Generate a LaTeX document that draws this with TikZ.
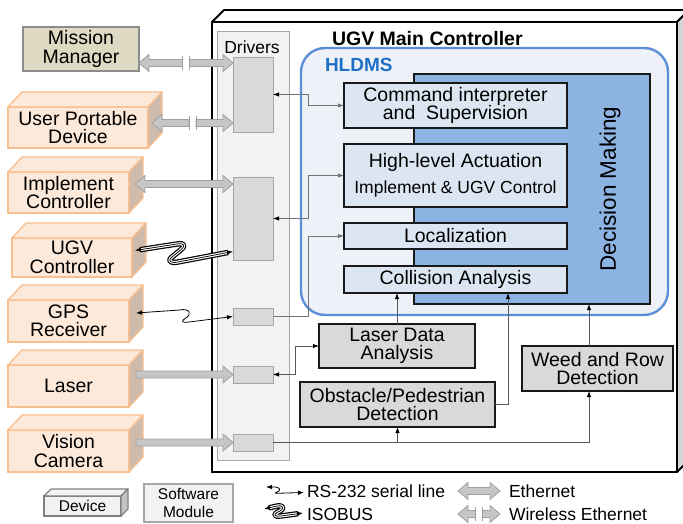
\documentclass[tikz,border=0pt]{standalone}
\usepackage{fontspec}
\setmainfont{Liberation Sans}
\usetikzlibrary{arrows.meta,calc}
\definecolor{peach}{HTML}{FDE9D9}
\definecolor{peachborder}{HTML}{F9BF8F}
\definecolor{peachside}{HTML}{CFBBAB}
\definecolor{khaki}{HTML}{DDD9C3}
\definecolor{mmborder}{HTML}{8C8C8C}
\definecolor{hlfill}{HTML}{EEF2F8}
\definecolor{hlborder}{HTML}{5B8FD8}
\definecolor{hltext}{HTML}{1F6FC5}
\definecolor{dmfill}{HTML}{8DB3E2}
\definecolor{modfill}{HTML}{DCE6F2}
\definecolor{swfill}{HTML}{D9D9D9}
\definecolor{drvpanel}{HTML}{F2F2F2}
\definecolor{drvborder}{HTML}{A6A6A6}
\definecolor{mainside}{HTML}{D6D6D6}
\definecolor{fatfill}{HTML}{C6C6C6}
\definecolor{fatdraw}{HTML}{A0A0A0}
\definecolor{legfill}{HTML}{F2F2F2}
\definecolor{legborder}{HTML}{808080}
\definecolor{legside}{HTML}{C4C4C4}
\tikzset{Lx/.tip={Latex[length=6pt,width=4.5pt]}}
\newcommand\mkcube[5]{%
  \draw[#4] (#1.north west) -- ++(#2,-#3) -- ($(#1.north east)+(#2,-#3)$) -- (#1.north east) -- cycle;
  \draw[#5] (#1.north east) -- ++(#2,-#3) -- ($(#1.south east)+(#2,-#3)$) -- (#1.south east) -- cycle;}
\newcommand\fatboth[2]{%
  \path[fat] let \p1=(#1), \p2=(#2) in
   (\x1,\y1) -- ++(10pt,8.5pt) -- ++(0pt,-5pt) -- (\x2-10pt,\y1+3.5pt) -- ++(0pt,5pt) -- (\x2,\y1)
   -- ++(-10pt,-8.5pt) -- ++(0pt,5pt) -- (\x1+10pt,\y1-3.5pt) -- ++(0pt,-5pt) -- cycle;}
\newcommand\fatsingle[2]{%
  \path[fat] let \p1=(#1), \p2=(#2) in
   (\x1,\y1+3.5pt) -- (\x2-10pt,\y1+3.5pt) -- ++(0pt,5pt) -- (\x2,\y1)
   -- ++(-10pt,-8.5pt) -- ++(0pt,5pt) -- (\x1,\y1-3.5pt) -- cycle;}
\newcommand\fatwireless[2]{%
  \path[fat] let \p1=(#1), \p2=(#2), \p3=($(#1)!.5!(#2)$) in
   (\x1,\y1) -- ++(10pt,8.5pt) -- ++(0pt,-5pt) -- (\x3-3.5pt,\y1+3.5pt) -- (\x3-3.5pt,\y1-3.5pt)
   -- (\x1+10pt,\y1-3.5pt) -- ++(0pt,-5pt) -- cycle
   (\x2,\y1) -- ++(-10pt,8.5pt) -- ++(0pt,-5pt) -- (\x3+3.5pt,\y1+3.5pt) -- (\x3+3.5pt,\y1-3.5pt)
   -- (\x2-10pt,\y1-3.5pt) -- ++(0pt,-5pt) -- cycle;
  \draw[fatdraw, line width=1pt] let \p1=(#1), \p3=($(#1)!.5!(#2)$) in
   (\x3-3.5pt,\y1+7pt) -- (\x3-3.5pt,\y1-7pt) (\x3+3.5pt,\y1+7pt) -- (\x3+3.5pt,\y1-7pt);}
\newcommand\isobus[1]{%
  \draw[black, line width=1.2pt, double=white, double distance=3pt, shorten <=5pt, shorten >=5pt, line join=round] #1;
  \draw[black, line width=0.75pt, line join=round, {Lx}-{Lx}] #1;}
\begin{document}
\begin{tikzpicture}[x=1pt,y=-1pt,
  font=\fontsize{19.5}{18.5}\selectfont,
  every node/.style={inner sep=0pt, outer sep=0pt},
  dev/.style={draw=peachborder, fill=peach, line width=1.3pt, align=center},
  devtop/.style={draw=peachborder, fill=peach, line width=1.3pt, line join=round},
  devside/.style={draw=peachborder, fill=peachside, line width=1.3pt, line join=round},
  mod/.style={draw=black!90, fill=modfill, line width=1.5pt, align=center},
  sw/.style={draw=black!90, fill=swfill, line width=1.7pt, align=center},
  drv/.style={draw=drvborder, fill=swfill, line width=0.9pt},
  fat/.style={fill=fatfill, draw=fatdraw, line width=0.8pt, line join=miter},
  conn/.style={draw=black!65, line width=0.9pt},
  gconn/.style={draw=black!55, line width=0.9pt},
  rs/.style={black, line width=0.8pt, line join=round, {Lx}-{Lx}},
  legtxt/.style={anchor=west, font=\fontsize{17.5}{18}\selectfont}]
\useasboundingbox (0,0) rectangle (683,524);
\fill[white] (0,0) rectangle (683,524);

% main controller
\node[draw=black, line width=1.8pt, fill=white, minimum width=465, minimum height=450] (main) at (444.5,247) {};
\mkcube{main}{12}{12}{draw=black,line width=1.8pt,fill=white,line join=round}{draw=black,line width=1.8pt,fill=mainside,line join=round}

% drivers
\node[draw=drvborder, fill=drvpanel, line width=1pt, minimum width=72, minimum height=428] (drv) at (253,246) {};
\node[font=\fontsize{17.5}{18}\selectfont] (drvlbl) at (252,47) {Drivers};
\node[drv, minimum width=40, minimum height=75] (d1) at (253,94.5) {};
\node[drv, minimum width=40, minimum height=83] (d2) at (253,218.5) {};
\node[drv, minimum width=40, minimum height=17] (d3) at (253,316.5) {};
\node[drv, minimum width=40, minimum height=17] (d4) at (253,374.5) {};
\node[drv, minimum width=40, minimum height=17] (d5) at (253,442.5) {};

% HLDMS
\node[draw=hlborder, line width=2.4pt, fill=hlfill, rounded corners=24pt, minimum width=367, minimum height=267] (hl) at (484.5,181.5) {};
\node[anchor=west, font=\bfseries\fontsize{19}{19}\selectfont, text=hltext] (hllbl) at (325,65) {HLDMS};
\node[anchor=west, font=\bfseries\fontsize{19.5}{19}\selectfont] (title) at (332,39) {UGV Main Controller};

\node[mod, fill=dmfill, minimum width=236, minimum height=230] (dm) at (532,189) {};
\node[rotate=90, font=\fontsize{22.5}{23}\selectfont] (dmlbl) at (610,189) {Decision Making};

\node[mod, minimum width=223, minimum height=45] (cmd) at (455.5,105.5) {Command interpreter\\and \ Supervision};
\node[mod, minimum width=223, minimum height=63] (hla) at (455.5,175.5) {High-level Actuation\\[8pt]{\fontsize{17.5}{18}\selectfont Implement \& UGV Control}};
\node[mod, minimum width=223, minimum height=26] (loc) at (455.5,236) {Localization};
\node[mod, minimum width=223, minimum height=27] (col) at (455.5,279.5) {Collision Analysis};

% software modules
\node[sw, minimum width=156, minimum height=44] (lda) at (397,346) {Laser Data\\Analysis};
\node[sw, minimum width=195, minimum height=45] (obs) at (397.5,404.5) {Obstacle/Pedestrian\\Detection};
\node[sw, minimum width=151, minimum height=45] (weed) at (597.5,368.5) {Weed and Row\\Detection};

% devices
\node[draw=mmborder, fill=khaki, line width=1.3pt, minimum width=116, minimum height=44, align=center] (mm) at (81,49) {Mission\\Manager};
\node[dev, minimum width=140, minimum height=41] (upd) at (78,127.5) {User Portable\\Device};
\mkcube{upd}{14}{15}{devtop}{devside}
\node[dev, minimum width=121, minimum height=41] (ic) at (68.5,192.5) {Implement\\Controller};
\mkcube{ic}{14}{15}{devtop}{devside}
\node[dev, minimum width=120, minimum height=39] (ugvc) at (72,257.5) {UGV\\Controller};
\mkcube{ugvc}{14}{15}{devtop}{devside}
\node[dev, minimum width=121, minimum height=42] (gps) at (68.5,321) {GPS\\Receiver};
\mkcube{gps}{14}{15}{devtop}{devside}
\node[dev, minimum width=121, minimum height=42] (laser) at (68.5,386) {Laser};
\mkcube{laser}{14}{15}{devtop}{devside}
\node[dev, minimum width=121, minimum height=42] (cam) at (68.5,451) {Vision\\Camera};
\mkcube{cam}{14}{15}{devtop}{devside}

% internal connectors
\draw[gconn, {Lx[color=black]}-{Lx}] (d1.east) -- ++(35,0) |- (cmd.west);
\draw[gconn, {Lx[color=black]}-{Lx}] (d2.east) -- ++(35,0) |- (hla.west);
\draw[gconn, -{Lx}] (d3.east) -- ++(35,0) |- (loc.west);
\draw[conn, {Lx[color=black]}-{Lx[color=black]}] (d4.east) -- ++(22,0) |- (lda.west);
\coordinate (w2) at ([xshift=-8.5pt]weed.south);
\coordinate (w1) at ([xshift=-8.5pt]weed.north);
\draw[conn, -{Lx[color=black]}] (d5.east) -| (w2);
\draw[conn, -{Lx[color=black]}] (obs.south |- d5.east) -- (obs.south);
\draw[conn, -{Lx[color=black]}] (lda.north) -- (lda.north |- col.south);
\draw[conn, -{Lx[color=black]}] (obs.east) -- ++(13,0) coordinate (o1) -- (o1 |- col.south);
\draw[conn, -{Lx[color=black]}] (w1) -- (w1 |- dm.south);

% external links
\coordinate (eMM) at ([yshift=-14pt]mm.east);
\fatwireless{eMM}{d1.west}
\coordinate (eUPD) at ([xshift=4pt,yshift=4.5pt]upd.east);
\fatwireless{eUPD}{d1.west}
\coordinate (eIC) at ([xshift=6pt,yshift=8.5pt]ic.east);
\fatboth{eIC}{d2.west}
\coordinate (eLAS) at ([xshift=7pt,yshift=11.5pt]laser.east);
\fatsingle{eLAS}{d4.west}
\coordinate (eCAM) at ([xshift=7pt,yshift=8.5pt]cam.east);
\fatsingle{eCAM}{d5.west}
\coordinate (iso1) at ([xshift=3pt,yshift=7pt]ugvc.east);
\coordinate (iso2) at ([yshift=-33pt]d2.west);
\isobus{(iso1) -- (177,244) .. controls (186,242.5) and (185,247) .. (180,250.5) -- (172,257) .. controls (167,261) and (171,263.5) .. (178,262) -- (iso2)}
\coordinate (rs1) at ([xshift=7pt,yshift=8pt]gps.east);
\draw[rs] (rs1) -- (180,310) .. controls (190,308) and (192,314) .. (186,318) .. controls (180,321.5) and (182,323) .. (189,322) -- (d3.west);

% legend
\node[draw=legborder, fill=legfill, line width=1.2pt, minimum width=77, minimum height=20, font=\fontsize{15.5}{16}\selectfont] (ldev) at (82.5,506) {Device};
\mkcube{ldev}{7}{7}{draw=legborder,fill=legfill,line width=1.2pt,line join=round}{draw=legborder,fill=legside,line width=1.2pt,line join=round}
\node[draw=drvborder, fill=legfill, line width=1.2pt, minimum width=89, minimum height=38, align=center, font=\fontsize{15.5}{18.5}\selectfont] (lsw) at (188.5,503) {Software\\Module};
\coordinate (lr1) at (266,487);
\coordinate (lr2) at (304,492.5);
\draw[rs] (lr1) -- (274,487) .. controls (281,487) and (281,491) .. (277,492) .. controls (274,493) and (275,493.5) .. (280,493.2) -- (lr2);
\node[legtxt] (lrs) at (307,491) {RS-232 serial line};
\coordinate (li1) at (264,509);
\coordinate (li2) at (303,513);
\isobus{(li1) -- (277,506) .. controls (284,505) and (284,509) .. (280,511) -- (277,512.5) .. controls (273,514.5) and (275,517) .. (281,516) -- (li2)}
\node[legtxt] (liso) at (307,514) {ISOBUS};
\coordinate (le1) at (458,491);
\coordinate (le2) at (500,491);
\fatboth{le1}{le2}
\node[legtxt] (leth) at (509,491) {Ethernet};
\coordinate (lw1) at (458,514);
\coordinate (lw2) at (500,514);
\fatwireless{lw1}{lw2}
\node[legtxt] (lwl) at (509,514) {Wireless Ethernet};
\end{tikzpicture}
\end{document}
